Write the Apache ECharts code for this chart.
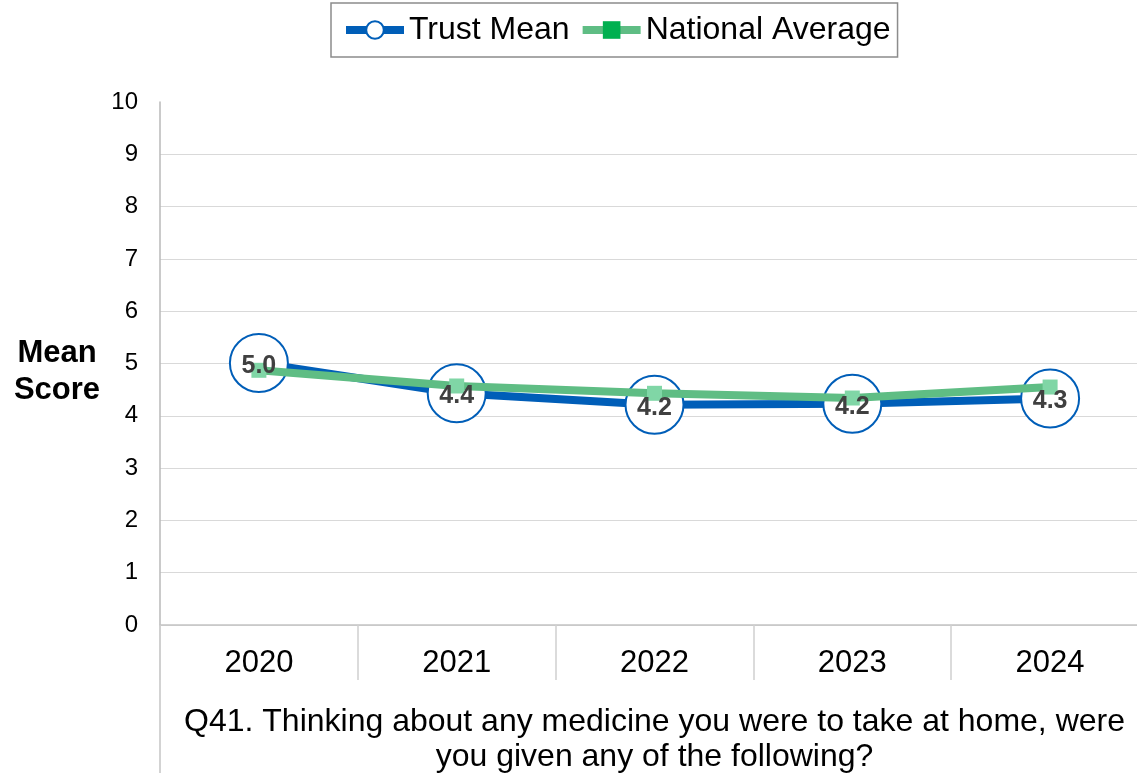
<!DOCTYPE html>
<html>
<head>
<meta charset="utf-8">
<script src="https://cdn.jsdelivr.net/npm/echarts@6/dist/echarts.min.js"></script>
<style>
html,body{margin:0;padding:0;background:#fff;}
#chart{width:1137px;height:773px;}
</style>
</head>
<body>
<div id="chart"></div>
<script>
const years = ['2020', '2021', '2022', '2023', '2024'];
const trustMean = [5.01, 4.43, 4.21, 4.23, 4.33];
const trustLabels = ['5.0', '4.4', '4.2', '4.2', '4.3'];
const nationalAverage = [4.87, 4.57, 4.43, 4.34, 4.55];
const yTicks = [0, 1, 2, 3, 4, 5, 6, 7, 8, 9, 10];
const xTitle = 'Q41. Thinking about any medicine you were to take at home, were\nyou given any of the following?';
const yTitle = 'Mean\nScore';

const FONT = '"Liberation Sans", Arial, sans-serif';
const BLUE = '#005EB8';
const GREEN_LINE = '#5FBD84';
const GREEN_MARK = '#80D6A6';
const GREEN_LEGEND = '#00B050';

const chart = echarts.init(document.getElementById('chart'), null, {renderer: 'canvas'});
chart.setOption({
  animation: false,
  textStyle: {fontFamily: FONT},
  legend: {
    left: 331, top: 3,
    padding: [11, 7, 11, 11],
    itemGap: 9,
    itemWidth: 58, itemHeight: 22,
    borderColor: '#8c8c8c', borderWidth: 1.5,
    textStyle: {fontFamily: FONT, fontSize: 32, color: '#000'},
    data: [
      {name: 'Trust Mean', lineStyle: {width: 8, color: BLUE}, itemStyle: {color: '#fff', borderColor: BLUE, borderWidth: 2}},
      {name: 'National Average', lineStyle: {width: 8, color: GREEN_LINE}, itemStyle: {color: GREEN_LEGEND, borderWidth: 0}}
    ]
  },
  grid: {left: 160, width: 989, top: 102, bottom: 148, containLabel: false, outerBoundsMode: 'none'},
  xAxis: {
    type: 'category',
    data: years,
    boundaryGap: true,
    axisLine: {show: true, lineStyle: {color: '#c4c4c4', width: 1.5}},
    axisTick: {show: true, length: 55, interval: 0, lineStyle: {color: '#cfcfcf', width: 1.5}},
    axisLabel: {fontSize: 31, color: '#000', margin: 23, fontFamily: FONT},
    name: xTitle,
    nameLocation: 'middle',
    nameGap: 80,
    nameTextStyle: {fontSize: 32, color: '#000', lineHeight: 35, fontFamily: FONT}
  },
  yAxis: {
    type: 'value',
    min: yTicks[0], max: yTicks[yTicks.length - 1], interval: 1,
    axisLine: {show: true, lineStyle: {color: '#b8b8b8', width: 1.5}},
    axisTick: {show: false},
    axisLabel: {fontSize: 24, color: '#000', margin: 22, fontFamily: FONT},
    splitLine: {show: true, showMaxLine: false, lineStyle: {color: '#d9d9d9', width: 1}}
  },
  graphic: [
    {type: 'line', shape: {x1: 160, y1: 625, x2: 160, y2: 773}, style: {stroke: '#c4c4c4', lineWidth: 1.5}, silent: true},
    {type: 'text', x: 57, y: 372, style: {text: yTitle, fontFamily: FONT, fontSize: 31, fontWeight: 'bold', fill: '#000', align: 'center', verticalAlign: 'middle', lineHeight: 37}}
  ],
  series: [
    {
      name: 'Trust Mean',
      type: 'line',
      z: 2,
      data: trustMean,
      symbol: 'circle',
      symbolSize: 58,
      lineStyle: {color: BLUE, width: 8},
      itemStyle: {color: '#fff', borderColor: BLUE, borderWidth: 2},
      label: {show: false}
    },
    {
      name: 'National Average',
      type: 'line',
      z: 3,
      data: nationalAverage,
      symbol: 'rect',
      symbolSize: 15,
      lineStyle: {color: GREEN_LINE, width: 8},
      itemStyle: {color: GREEN_MARK, borderWidth: 0}
    },
    {
      name: 'labels',
      type: 'line',
      z: 4,
      silent: true,
      data: trustMean.map((v, i) => ({value: v, label: {formatter: trustLabels[i]}})),
      symbol: 'circle',
      symbolSize: 1,
      lineStyle: {opacity: 0},
      itemStyle: {color: 'rgba(0,0,0,0)'},
      label: {show: true, position: 'inside', offset: [0, 3], fontSize: 25, fontWeight: 'bold', color: '#404040', fontFamily: FONT}
    }
  ]
});
</script>
</body>
</html>
